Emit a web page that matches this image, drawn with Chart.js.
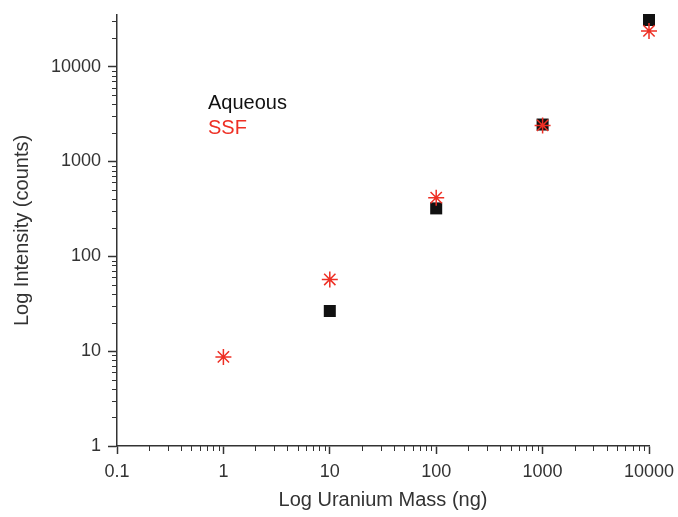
<!DOCTYPE html>
<html>
<head>
<meta charset="utf-8">
<script src="https://cdn.jsdelivr.net/npm/chart.js@4.4.0/dist/chart.umd.min.js"></script>
<style>
  html, body { margin: 0; padding: 0; background: #fff; }
  #wrap { width: 678px; height: 517px; }
</style>
</head>
<body>
<div id="wrap"><canvas id="uranium_chart"></canvas></div>
<script>
// values (ng -> counts)
var aqueousMass = [10, 100, 1000, 10000];
var aqueousCounts = [26.5, 320, 2450, 31000];
var ssfMass = [1, 10, 100, 1000, 10000];
var ssfCounts = [8.7, 57, 415, 2400, 23800];

var xMin = 0.1, xMax = 10000;
var yMin = 1, yMax = 35000;

var seriesNames = ['Aqueous', 'SSF'];
var seriesColors = ['#111111', '#ee2f24'];

function pairs(xs, ys) {
  var out = [];
  for (var i in xs) out.push({x: xs[i], y: ys[i]});
  return out;
}

// 1..9 x 10^k inside the range, for the small log ticks
function logTicks(min, max) {
  var t = [];
  for (var k = Math.floor(Math.log10(min)); k <= Math.ceil(Math.log10(max)); k++) {
    for (var m = 1; m <= 9; m++) {
      var v = m * Math.pow(10, k);
      if (v >= min * 0.999 && v <= max * 1.001) t.push({value: v});
    }
  }
  return t;
}
function isDecade(v) {
  var l = Math.log10(v);
  return Math.abs(l - Math.round(l)) < 1e-6;
}
function decadeLabel(v) {
  if (!isDecade(v)) return '';
  return v < 1 ? v.toFixed(1) : String(Math.round(v));
}

var axisColor = '#333333';
var tickFont = {family: 'Liberation Sans, Arial, sans-serif', size: 18};
var titleFont = {family: 'Liberation Sans, Arial, sans-serif', size: 20};

// short ticks between the decades
var minorTicks = {
  id: 'minorTicks',
  afterDraw: function(chart) {
    var ctx = chart.ctx;
    var xs = chart.scales.x, ys = chart.scales.y;
    ctx.save();
    ctx.strokeStyle = axisColor;
    ctx.lineWidth = 1;
    xs.ticks.forEach(function(t) {
      if (isDecade(t.value)) return;
      var px = Math.round(xs.getPixelForValue(t.value)) + 0.5;
      ctx.beginPath();
      ctx.moveTo(px, xs.top);
      ctx.lineTo(px, xs.top + 5);
      ctx.stroke();
    });
    ys.ticks.forEach(function(t) {
      if (isDecade(t.value)) return;
      var py = Math.round(ys.getPixelForValue(t.value)) + 0.5;
      ctx.beginPath();
      ctx.moveTo(ys.right, py);
      ctx.lineTo(ys.right - 5, py);
      ctx.stroke();
    });
    ctx.restore();
  }
};

// plain text legend, no markers
var textLegend = {
  id: 'textLegend',
  afterDraw: function(chart) {
    var ctx = chart.ctx;
    ctx.save();
    ctx.font = '20px Liberation Sans, Arial, sans-serif';
    ctx.textAlign = 'left';
    ctx.textBaseline = 'middle';
    for (var i = 0; i < seriesNames.length; i++) {
      ctx.fillStyle = seriesColors[i];
      ctx.fillText(seriesNames[i], 208, 103 + i * 25);
    }
    ctx.restore();
  }
};

var chartdata = {
  datasets: [
    {
      label: seriesNames[0],
      data: pairs(aqueousMass, aqueousCounts),
      pointStyle: 'rect',
      pointRadius: 8.5,
      pointHoverRadius: 8.5,
      backgroundColor: seriesColors[0],
      borderColor: seriesColors[0],
      borderWidth: 0,
      clip: false,
      order: 1
    },
    {
      label: seriesNames[1],
      data: pairs(ssfMass, ssfCounts),
      pointStyle: 'star',
      pointRadius: 8,
      pointHoverRadius: 8,
      backgroundColor: seriesColors[1],
      borderColor: seriesColors[1],
      borderWidth: 1.5,
      clip: false,
      order: 0
    }
  ]
};

var ctx = document.getElementById('uranium_chart');

var scatter = new Chart(ctx, {
  type: 'scatter',
  data: chartdata,
  plugins: [minorTicks, textLegend],
  options: {
    responsive: true,
    maintainAspectRatio: false,
    animation: false,
    layout: { padding: {top: 15, right: 29, left: 0, bottom: 0} },
    plugins: {
      legend: { display: false },
      tooltip: { enabled: false }
    },
    scales: {
      x: {
        type: 'logarithmic',
        min: xMin,
        max: xMax,
        afterBuildTicks: function(s) { s.ticks = logTicks(xMin, xMax); },
        afterFit: function(s) { s.height = 71; s.paddingLeft = 0; s.paddingRight = 0; },
        ticks: {
          autoSkip: false,
          maxRotation: 0,
          padding: 7,
          color: axisColor,
          font: tickFont,
          callback: function(v) { return decadeLabel(v); }
        },
        grid: {
          drawOnChartArea: false,
          drawTicks: true,
          tickLength: 8,
          tickWidth: 1.5,
          tickColor: function(c) { return c.tick && isDecade(c.tick.value) ? axisColor : 'rgba(0,0,0,0)'; }
        },
        border: { display: true, color: axisColor, width: 1.5 },
        title: {
          display: true,
          text: 'Log Uranium Mass (ng)',
          color: axisColor,
          font: titleFont,
          padding: {top: 0, bottom: 5}
        }
      },
      y: {
        type: 'logarithmic',
        min: yMin,
        max: yMax,
        afterBuildTicks: function(s) { s.ticks = logTicks(yMin, yMax); },
        afterFit: function(s) { s.width = 117; s.paddingTop = 0; s.paddingBottom = 0; },
        ticks: {
          autoSkip: false,
          padding: 7,
          color: axisColor,
          font: tickFont,
          callback: function(v) { return decadeLabel(v); }
        },
        grid: {
          drawOnChartArea: false,
          drawTicks: true,
          tickLength: 9,
          tickWidth: 1.5,
          tickColor: function(c) { return c.tick && isDecade(c.tick.value) ? axisColor : 'rgba(0,0,0,0)'; }
        },
        border: { display: true, color: axisColor, width: 1.5 },
        title: {
          display: true,
          text: 'Log Intensity (counts)',
          color: axisColor,
          font: titleFont,
          padding: {top: 10, bottom: 0}
        }
      }
    }
  }
});
</script>
</body>
</html>
